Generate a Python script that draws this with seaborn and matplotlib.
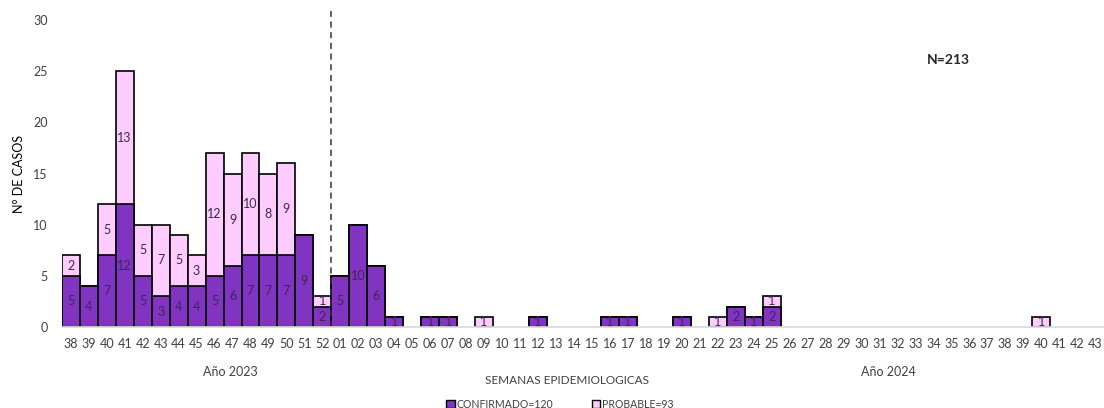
import matplotlib
matplotlib.use("Agg")
import matplotlib.pyplot as plt
import seaborn as sns
import numpy as np
import pandas as pd
from matplotlib.patches import Patch

weeks_2023 = [str(w) for w in range(38, 53)]
weeks_2024 = [f"{w:02d}" for w in range(1, 44)]

conf_2023 = [5, 4, 7, 12, 5, 3, 4, 4, 5, 6, 7, 7, 7, 9, 2]
prob_2023 = [2, 0, 5, 13, 5, 7, 5, 3, 12, 9, 10, 8, 9, 0, 1]

conf_2024 = [5, 10, 6, 1, 0, 1, 1, 0, 0, 0, 0, 1, 0, 0, 0, 1, 1, 0, 0, 1, 0, 0, 2, 1, 2,
             0, 0, 0, 0, 0, 0, 0, 0, 0, 0, 0, 0, 0, 0, 0, 0, 0, 0]
prob_2024 = [0, 0, 0, 0, 0, 0, 0, 0, 1, 0, 0, 0, 0, 0, 0, 0, 0, 0, 0, 0, 0, 1, 0, 0, 1,
             0, 0, 0, 0, 0, 0, 0, 0, 0, 0, 0, 0, 0, 0, 1, 0, 0, 0]

labels = weeks_2023 + weeks_2024
keys = [f"2023-{w}" for w in weeks_2023] + [f"2024-{w}" for w in weeks_2024]
conf = np.array(conf_2023 + conf_2024)
prob = np.array(prob_2023 + prob_2024)
df = pd.DataFrame({"key": keys, "conf": conf, "prob": prob, "total": conf + prob})

purple = "#8134C2"
pink = "#FFCCFF"
txt = "#404040"

sns.set_theme(style="white")
plt.rcParams["font.family"] = ["Lato", "DejaVu Sans"]

fig = plt.figure(figsize=(11.04, 4.08), dpi=100)
ax = fig.add_axes([0.056, 0.1985, 0.944, 0.7525])

sns.barplot(data=df, x="key", y="total", order=keys, color=pink, saturation=1,
            edgecolor="black", linewidth=1.2, width=1, ax=ax)
sns.barplot(data=df, x="key", y="conf", order=keys, color=purple, saturation=1,
            edgecolor="black", linewidth=1.2, width=1, ax=ax)

# hide zero-height bars
for p in ax.patches:
    if p.get_height() == 0:
        p.set_visible(False)

for i, (c, pr) in enumerate(zip(conf, prob)):
    if c > 0:
        ax.text(i, c / 2, str(c), ha="center", va="center", fontsize=9, color="#3a2850")
    if pr > 0:
        ax.text(i, c + pr / 2, str(pr), ha="center", va="center", fontsize=9, color="#3a2850")

ax.set_xlim(-0.5, len(keys) - 0.5)
ax.set_ylim(0, 30)
ax.set_yticks(range(0, 31, 5))
ax.set_xticks(range(len(keys)))
ax.set_xticklabels(labels, fontsize=9, color=txt)
ax.tick_params(axis="y", labelsize=9, colors=txt, length=0, pad=10)
ax.tick_params(axis="x", length=0, pad=8)
for s in ["top", "right", "left"]:
    ax.spines[s].set_visible(False)
ax.spines["bottom"].set_color("#d9d9d9")
ax.set_xlabel("")
ax.set_ylabel("N° DE CASOS", fontsize=9, color="black", labelpad=6)

# separator between years
ax.axvline(14.5, ymin=0, ymax=1.03, color="#333333", linestyle=(0, (4, 3)), linewidth=1.1, clip_on=False)

fig.text(948 / 1104, 1 - 60 / 408, "N=213", fontsize=10, fontweight="bold", ha="center", va="center")
fig.text(230 / 1104, 1 - 372 / 408, "Año 2023", fontsize=9, color=txt, ha="center", va="center")
fig.text(888 / 1104, 1 - 372 / 408, "Año 2024", fontsize=9, color=txt, ha="center", va="center")
fig.text(567 / 1104, 1 - 380 / 408, "SEMANAS EPIDEMIOLOGICAS", fontsize=8.5, color=txt, ha="center", va="center")

handles = [Patch(facecolor=purple, edgecolor="black", label="CONFIRMADO=120"),
           Patch(facecolor=pink, edgecolor="black", label="PROBABLE=93")]
fig.legend(handles=handles, loc="center", bbox_to_anchor=(560 / 1104, 1 - 404 / 408), ncol=2,
           frameon=False, fontsize=7.6, handlelength=0.8, handleheight=0.8, handletextpad=0.2,
           columnspacing=3.6, labelcolor=txt)

fig.savefig("out.png", dpi=100)
